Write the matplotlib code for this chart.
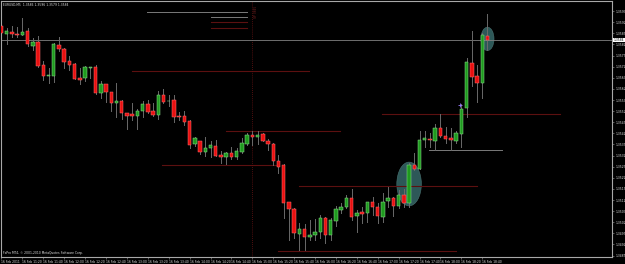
import matplotlib
matplotlib.use("Agg")
import matplotlib.pyplot as plt
from matplotlib.patches import Ellipse
import numpy as np

# EURUSD M5, 16 Feb 2011, bars from 11:00
symbol = "EURUSD,M5"
first_bar_minutes = 11 * 60
bar_minutes = 5

opens = [1.35903, 1.35868, 1.35877, 1.35867, 1.35864, 1.35882, 1.35814, 1.35831, 1.35726, 1.35679,
         1.35679, 1.35817, 1.35798, 1.35744, 1.35732, 1.35669, 1.35669, 1.35714, 1.35717, 1.35600,
         1.35641, 1.35606, 1.35558, 1.35566, 1.35510, 1.35507, 1.35499, 1.35521, 1.35552, 1.35519,
         1.35503, 1.35593, 1.35564, 1.35570, 1.35498, 1.35498, 1.35476, 1.35373, 1.35386, 1.35337,
         1.35354, 1.35363, 1.35323, 1.35312, 1.35330, 1.35315, 1.35336, 1.35373, 1.35414, 1.35402,
         1.35416, 1.35386, 1.35371, 1.35296, 1.35278, 1.35111, 1.35080, 1.34966, 1.34990, 1.34955,
         1.34963, 1.34975, 1.35038, 1.34964, 1.35027, 1.35075, 1.35087, 1.35128, 1.35048, 1.35067,
         1.35060, 1.35110, 1.35090, 1.35045, 1.35117, 1.35130, 1.35093, 1.35143, 1.35108, 1.35278,
         1.35260, 1.35390, 1.35396, 1.35387, 1.35444, 1.35408, 1.35398, 1.35387, 1.35417, 1.35533,
         1.35738, 1.35679, 1.35645, 1.35859]
highs = [1.35921, 1.35894, 1.35903, 1.35899, 1.35939, 1.35893, 1.35848, 1.35859, 1.35747, 1.35713,
         1.35828, 1.35852, 1.35803, 1.35768, 1.35735, 1.35713, 1.35723, 1.35720, 1.35728, 1.35656,
         1.35642, 1.35607, 1.35648, 1.35570, 1.35512, 1.35555, 1.35528, 1.35564, 1.35570, 1.35555,
         1.35611, 1.35620, 1.35593, 1.35593, 1.35516, 1.35522, 1.35478, 1.35405, 1.35387, 1.35405,
         1.35387, 1.35390, 1.35342, 1.35337, 1.35360, 1.35353, 1.35398, 1.35420, 1.35431, 1.35432,
         1.35420, 1.35393, 1.35375, 1.35323, 1.35280, 1.35112, 1.35082, 1.35018, 1.35012, 1.35030,
         1.35033, 1.35053, 1.35045, 1.35038, 1.35094, 1.35108, 1.35143, 1.35168, 1.35075, 1.35090,
         1.35112, 1.35135, 1.35105, 1.35150, 1.35180, 1.35135, 1.35165, 1.35170, 1.35288, 1.35330,
         1.35432, 1.35432, 1.35420, 1.35461, 1.35507, 1.35447, 1.35443, 1.35432, 1.35551, 1.35760,
         1.35882, 1.35728, 1.35870, 1.35957]
lows = [1.35863, 1.35822, 1.35854, 1.35854, 1.35863, 1.35813, 1.35795, 1.35720, 1.35660, 1.35648,
        1.35652, 1.35792, 1.35713, 1.35705, 1.35663, 1.35641, 1.35654, 1.35668, 1.35596, 1.35578,
        1.35562, 1.35522, 1.35495, 1.35485, 1.35438, 1.35480, 1.35438, 1.35495, 1.35513, 1.35498,
        1.35485, 1.35558, 1.35543, 1.35470, 1.35480, 1.35458, 1.35355, 1.35363, 1.35327, 1.35318,
        1.35312, 1.35318, 1.35288, 1.35282, 1.35303, 1.35303, 1.35333, 1.35366, 1.35368, 1.35372,
        1.35386, 1.35345, 1.35278, 1.35243, 1.35038, 1.34940, 1.34948, 1.34895, 1.34895, 1.34940,
        1.34940, 1.34948, 1.34928, 1.34940, 1.35003, 1.35060, 1.35083, 1.35030, 1.34977, 1.35015,
        1.35022, 1.35053, 1.35015, 1.35022, 1.35090, 1.35049, 1.35083, 1.35090, 1.35090, 1.35255,
        1.35258, 1.35360, 1.35360, 1.35345, 1.35405, 1.35375, 1.35345, 1.35375, 1.35357, 1.35495,
        1.35633, 1.35562, 1.35578, 1.35795]
closes = [1.35872, 1.35882, 1.35868, 1.35863, 1.35876, 1.35821, 1.35831, 1.35724, 1.35679, 1.35682,
          1.35821, 1.35799, 1.35742, 1.35729, 1.35666, 1.35661, 1.35720, 1.35717, 1.35600, 1.35641,
          1.35605, 1.35557, 1.35566, 1.35512, 1.35499, 1.35499, 1.35522, 1.35552, 1.35516, 1.35504,
          1.35591, 1.35562, 1.35567, 1.35495, 1.35495, 1.35472, 1.35369, 1.35398, 1.35337, 1.35354,
          1.35366, 1.35319, 1.35315, 1.35333, 1.35315, 1.35341, 1.35378, 1.35413, 1.35402, 1.35414,
          1.35387, 1.35372, 1.35294, 1.35270, 1.35108, 1.35078, 1.34970, 1.34988, 1.34955, 1.34963,
          1.34976, 1.35039, 1.34964, 1.35030, 1.35078, 1.35090, 1.35128, 1.35045, 1.35063, 1.35058,
          1.35110, 1.35090, 1.35048, 1.35110, 1.35128, 1.35093, 1.35143, 1.35108, 1.35278, 1.35258,
          1.35390, 1.35398, 1.35389, 1.35444, 1.35408, 1.35393, 1.35390, 1.35420, 1.35530, 1.35740,
          1.35675, 1.35645, 1.35863, 1.35840]

# drawn objects: horizontal levels (price, from bar, to bar)
red_levels = [1.35700, 1.35276, 1.35432, 1.35183, 1.35506, 1.34889]
red_from = [25.0, 30.8, 43.0, 57.0, 72.8, 53.0]
red_to = [58.9, 52.6, 64.8, 91.0, 106.9, 87.0]
gray_levels = [1.35344]
gray_from = [81.8]
gray_to = [95.8]
# small legend-like stack at top
top_gray = [1.35967, 1.35942]
top_gray_from = [27.9, 40.0]
top_red = [1.35922, 1.35895]
top_from = 40.0
top_to = 47.0
vline_bar = 48
vline_name = "SP 3845"
# ellipses: centre bar, centre price, width (bars), height (price)
ell_bar = [78, 93]
ell_price = [1.35192, 1.35845]
ell_w = [4.7, 2.5]
ell_h = [0.00197, 0.00105]
signal_bar = 87.7
signal_price = 1.35549

yticks = [1.3597 - 0.0005 * i for i in range(23)]

x = np.arange(len(opens))

fig = plt.figure(figsize=(6.25, 2.64), dpi=100, facecolor='black')
ax = fig.add_axes([1.5 / 625, 7 / 264, 610.5 / 625, 256 / 264])
ax.set_facecolor('black')

for b, p, w, h in zip(ell_bar, ell_price, ell_w, ell_h):
    ax.add_patch(Ellipse((b, p), w, h, facecolor='#2d5858', edgecolor='#4a7272', lw=0.4, zorder=1))

for lv, a, b in zip(red_levels, red_from, red_to):
    ax.plot([a, b], [lv, lv], color='#5c1010', lw=0.8, zorder=1.5)
for lv, a, b in zip(gray_levels, gray_from, gray_to):
    ax.plot([a, b], [lv, lv], color='#7a7a7a', lw=0.7, zorder=1.5)
for lv, a in zip(top_gray, top_gray_from):
    ax.plot([a, top_to], [lv, lv], color='#7a7a7a', lw=0.7, zorder=1.5)
for lv in top_red:
    ax.plot([top_from, top_to], [lv, lv], color='#5c1010', lw=0.8, zorder=1.5)

ax.axvline(vline_bar, color='#6a1414', lw=0.6, ls=(0, (1, 1.5)), zorder=1.5)
ax.text(vline_bar + 0.3, 1.35995, vline_name, rotation=90, color='#7a2222',
        fontsize=2.2, va='top', ha='left', zorder=3)

# bid line
ax.axhline(closes[-1], color='#808080', lw=0.6, zorder=1.6)

# candles
for i in x:
    o, h, l, c = opens[i], highs[i], lows[i], closes[i]
    up = c > o
    ax.plot([i, i], [l, h], color='#6a6a6a', lw=0.7, zorder=2)
    bottom = min(o, c)
    height = max(abs(c - o), 0.00003)
    if up:
        fc, ec = '#1f9a1f', '#8fe08f'
    else:
        fc, ec = '#e81010', '#ff7070'
    ax.bar(i, height, bottom=bottom, width=0.66, color=fc, edgecolor=ec, linewidth=0.35, zorder=3)

ax.plot(signal_bar, signal_price, marker='+', color='#9a7aff', ms=2.5, mew=0.6, zorder=4)

ax.set_xlim(0.096, 116.83)
ax.set_ylim(1.348635, 1.360155)

# time axis
tick_idx = x[::4]
labels = []
for i in tick_idx:
    m = first_bar_minutes + bar_minutes * i
    if i == 0:
        labels.append("16 Feb 2011")
    else:
        labels.append("16 Feb %02d:%02d" % (m // 60, m % 60))
ax.set_xticks(tick_idx)
ax.set_xticklabels(labels, ha='left', fontsize=2.2, color='#e0e0e0')

ax.yaxis.tick_right()
ax.set_yticks(yticks)
ax.set_yticklabels(['%.4f' % v for v in yticks], fontsize=2.2, color='#e0e0e0')
ax.tick_params(axis='both', length=1.5, width=0.4, color='#a0a0a0', pad=1)

for s in ax.spines.values():
    s.set_color('#a8a8a8')
    s.set_linewidth(0.8)

ax.annotate('%.4f' % closes[-1], xy=(1, closes[-1]), xycoords=('axes fraction', 'data'),
            xytext=(1.2, 0), textcoords='offset points', fontsize=2.2, color='black',
            va='center', ha='left', annotation_clip=False,
            bbox=dict(boxstyle='square,pad=0.15', fc='white', ec='none'), zorder=6)

ax.text(0.003, 0.993, "%s  %.4f %.4f %.4f %.4f" % (symbol, opens[-1], highs[-1], lows[-1], closes[-1]),
        transform=ax.transAxes, fontsize=2.2, color='#e0e0e0', va='top', ha='left')
ax.text(0.003, 0.006, "FxPro MT4, \u00a9 2001-2010 MetaQuotes Software Corp.",
        transform=ax.transAxes, fontsize=2.2, color='#e0e0e0', va='bottom', ha='left')

fig.savefig("out.png", dpi=100, facecolor='black')
